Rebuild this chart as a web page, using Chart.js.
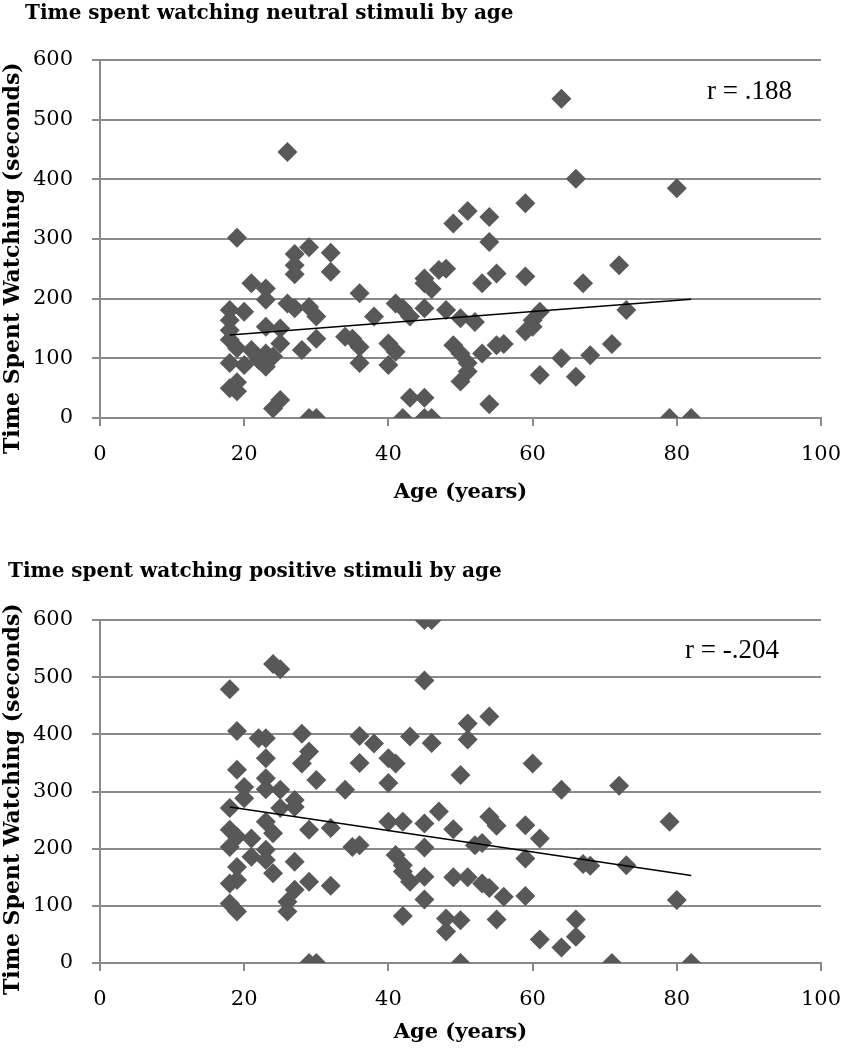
<!DOCTYPE html>
<html><head><meta charset="utf-8">
<script src="https://cdn.jsdelivr.net/npm/chart.js@4.4.1/dist/chart.umd.min.js"></script>
<style>
body{margin:0;background:#fff;}
#wrap{position:relative;width:842px;height:1050px;overflow:hidden;background:#fff}
canvas{position:absolute;left:0}
.title{position:absolute;font-family:"DejaVu Serif";font-weight:bold;font-size:20px;line-height:24px;color:#000;white-space:nowrap;z-index:2}
.rlab{position:absolute;font-family:"Liberation Serif";font-size:27px;line-height:27px;color:#000;white-space:nowrap;z-index:2}
</style></head><body>
<div id="wrap">
<canvas id="c1" width="842" height="525" style="top:0px"></canvas>
<canvas id="c2" width="842" height="525" style="top:525px"></canvas>
<div class="title" style="left:25px;top:0px">Time spent watching neutral stimuli by age</div>
<div class="rlab" style="left:707px;top:77px">r = .188</div>
<div class="title" style="left:8px;top:558px">Time spent watching positive stimuli by age</div>
<div class="rlab" style="left:685px;top:636px">r = -.204</div>
</div>
<script>
const ageTicks = [0, 20, 40, 60, 80, 100];
const timeTicks = [0, 100, 200, 300, 400, 500, 600];

const neutralAge = [26,19,27,29,32,27,27,32,36,21,23,23,26,27,29,30,18,20,18,18,23,25,18,19,21,23,25,24,30,34,35,36,28,36,38,18,20,22,23,18,19,19,24,25,29,30,
  64,66,80,59,49,51,54,54,47,48,45,45,46,53,55,59,67,72,73,61,60,60,59,41,42,43,45,48,50,52,40,41,40,49,50,51,51,50,53,55,56,64,68,71,61,66,43,45,54,42,45,46,79,82];
const neutralTime = [446,302,275,286,277,256,241,245,209,226,217,198,192,184,186,170,181,178,164,147,153,150,131,117,114,108,125,103,133,136,133,119,114,92,170,92,89,97,86,50,60,45,16,30,0,0,
  535,401,385,360,326,347,337,295,248,250,234,226,216,226,242,237,226,256,181,178,164,153,145,192,184,170,184,181,167,161,125,111,89,122,108,92,78,61,108,122,124,100,105,124,72,69,34,34,23,0,0,0,0,0];

const positiveAge = [24,25,18,19,22,23,28,29,28,23,19,23,30,34,36,36,38,20,20,23,25,27,25,27,18,18,19,18,21,23,24,23,21,23,24,29,32,35,36,19,18,19,27,27,29,32,18,19,26,26,29,30,
  45,46,45,54,51,51,43,46,40,41,40,50,60,64,72,79,47,40,42,45,49,54,55,59,61,52,53,45,59,67,68,73,41,42,42,43,45,49,51,53,54,56,59,45,80,42,48,50,55,66,48,61,66,64,50,71,82];
const positiveTime = [523,514,479,406,393,393,401,370,349,358,338,323,320,303,397,350,384,308,288,304,303,285,271,273,271,233,221,203,218,247,227,198,186,180,157,233,236,203,206,168,139,145,177,128,142,135,104,90,107,90,0,0,
  600,600,494,431,419,391,396,385,358,349,315,329,349,303,310,247,265,247,247,244,234,256,240,241,218,206,210,202,183,173,170,171,189,171,160,142,151,150,150,139,131,116,117,111,110,82,78,75,76,76,55,41,46,27,0,0,0];

const trendAge = [18, 82];
const neutralTrend = [139, 199];
const positiveTrend = [273, 153];

const xTitle = 'Age (years)';
const yTitle = 'Time Spent Watching (seconds)';

function pts(xs, ys){ return xs.map((x,i)=>({x:x, y:ys[i]})); }

const gridCol = '#8a8a8a';
const tickFont = {family:'DejaVu Serif', size:21};
const xTitleFont = {family:'DejaVu Serif', size:21, weight:'bold'};
const yTitleFont = {family:'DejaVu Serif', size:22, weight:'bold'};

function makeChart(id, ages, times, trend, lay){
  return new Chart(document.getElementById(id), {
    type:'scatter',
    data:{datasets:[
      {type:'line', data:pts(trendAge, trend), borderColor:'#000', borderWidth:1.6, pointRadius:0, fill:false, order:0},
      {data:pts(ages, times), pointStyle:'rectRot', pointRadius:10, pointHoverRadius:10, backgroundColor:'#585858', borderColor:'#585858', borderWidth:0, order:1}
    ]},
    options:{
      responsive:false, animation:false, devicePixelRatio:1,
      layout:{padding:{top:lay.padTop, right:21, left:0, bottom:lay.padBottom}},
      plugins:{legend:{display:false}, tooltip:{enabled:false}, title:{display:false}},
      scales:{
        x:{type:'linear', min:ageTicks[0], max:ageTicks[ageTicks.length-1],
          ticks:{stepSize:ageTicks[1]-ageTicks[0], font:tickFont, color:'#000', padding:16, maxRotation:0},
          grid:{drawOnChartArea:false, drawTicks:true, tickLength:8, color:gridCol, lineWidth:2},
          border:{color:gridCol, width:2},
          title:{display:true, text:xTitle, font:xTitleFont, color:'#000', padding:{top:0,bottom:lay.xTitlePad}},
          afterFit:function(s){ s.height = lay.axisH; s.paddingLeft = 0; s.paddingRight = 21; }
        },
        y:{min:timeTicks[0], max:timeTicks[timeTicks.length-1],
          ticks:{stepSize:timeTicks[1]-timeTicks[0], font:tickFont, color:'#000', padding:19},
          grid:{drawOnChartArea:true, drawTicks:true, tickLength:8, color:gridCol, lineWidth:2},
          border:{color:gridCol, width:2},
          title:{display:true, text:yTitle + ' '.repeat(lay.ySpaces), font:yTitleFont, color:'#000', padding:{top:0,bottom:0}},
          afterFit:function(s){ s.width = 100; }
        }
      }
    }
  });
}

makeChart('c1', neutralAge, neutralTime, neutralTrend, {padTop:60, padBottom:0, axisH:107, xTitlePad:20, ySpaces:5});
makeChart('c2', positiveAge, positiveTime, positiveTrend, {padTop:95, padBottom:5, axisH:82, xTitlePad:0, ySpaces:2});
</script>
</body></html>
